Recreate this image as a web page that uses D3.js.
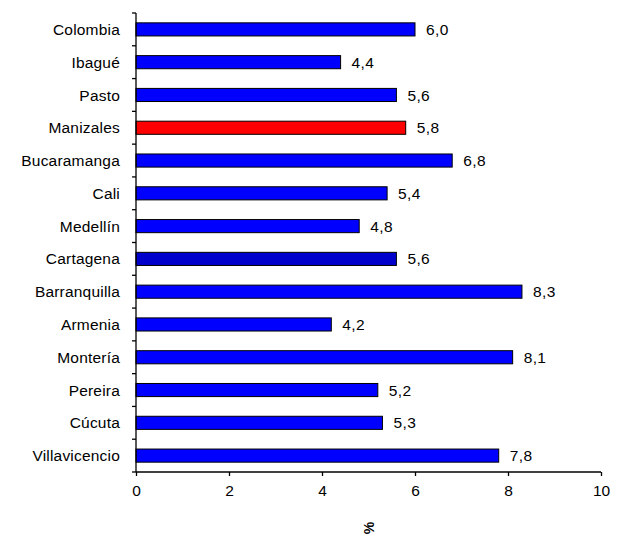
<!DOCTYPE html>
<html>
<head>
<meta charset="utf-8">
<script src="https://cdn.jsdelivr.net/npm/d3@7"></script>
<style>
  html, body { margin: 0; padding: 0; background: #fff; }
  text { font-family: "Liberation Sans", Arial, sans-serif; fill: #000; }
</style>
</head>
<body>
<svg id="chart" width="621" height="536"></svg>
<script>
// Cities, top to bottom, and their percentages
const categories = ["Colombia", "Ibagué", "Pasto", "Manizales", "Bucaramanga", "Cali", "Medellín",
  "Cartagena", "Barranquilla", "Armenia", "Montería", "Pereira", "Cúcuta", "Villavicencio"];
const values = [6.0, 4.4, 5.6, 5.8, 6.8, 5.4, 4.8, 5.6, 8.3, 4.2, 8.1, 5.2, 5.3, 7.8];
const barColors = ["#0000FF", "#0000FF", "#0000FF", "#FF0000", "#0000FF", "#0000FF", "#0000FF",
  "#0000CC", "#0000FF", "#0000FF", "#0000FF", "#0000FF", "#0000FF", "#0000FF"];
const xTicks = [0, 2, 4, 6, 8, 10];
const xTitle = "%";

const svg = d3.select("#chart");
const plotLeft = 136, plotRight = 601, plotTop = 13, plotBottom = 472;

const x = d3.scaleLinear().domain([0, 10]).range([plotLeft, plotRight]);
const y = d3.scaleBand().domain(categories).range([plotTop, plotBottom]).paddingInner(0.6).paddingOuter(0.3);

const rows = categories.map((c, i) => ({ c, v: values[i], col: barColors[i] }));
const fmt = v => v.toFixed(1).replace(".", ",");

// bars
svg.append("g").selectAll("rect").data(rows).join("rect")
  .attr("x", x(0))
  .attr("y", d => y(d.c))
  .attr("width", d => x(d.v) - x(0))
  .attr("height", y.bandwidth())
  .attr("fill", d => d.col)
  .attr("stroke", "#000")
  .attr("stroke-width", 1);

// value labels
svg.append("g").selectAll("text").data(rows).join("text")
  .attr("x", d => x(d.v) + 11)
  .attr("y", d => y(d.c) + y.bandwidth() / 2)
  .attr("dy", "0.36em")
  .style("font-size", "15.5px")
  .style("letter-spacing", "0.4px")
  .text(d => fmt(d.v));

// category axis: line plus ticks between categories
const step = (plotBottom - plotTop) / categories.length;
const gy = svg.append("g");
gy.append("line").attr("x1", plotLeft).attr("x2", plotLeft).attr("y1", plotTop).attr("y2", plotBottom)
  .attr("stroke", "#000").attr("stroke-width", 1.3);
gy.selectAll("line.tk").data(d3.range(categories.length + 1)).join("line")
  .attr("class", "tk")
  .attr("x1", plotLeft - 4).attr("x2", plotLeft)
  .attr("y1", i => plotTop + i * step).attr("y2", i => plotTop + i * step)
  .attr("stroke", "#000").attr("stroke-width", 1.3);
gy.selectAll("text").data(categories).join("text")
  .attr("x", plotLeft - 16)
  .attr("y", d => y(d) + y.bandwidth() / 2)
  .attr("dy", "0.36em")
  .attr("text-anchor", "end")
  .style("font-size", "15.5px")
  .style("letter-spacing", "0.2px")
  .text(d => d);

// value axis
const xAxis = d3.axisBottom(x).tickValues(xTicks).tickSize(4).tickPadding(9).tickFormat(d3.format("d"));
const gx = svg.append("g").attr("transform", `translate(0,${plotBottom})`).call(xAxis);
gx.select(".domain").attr("stroke", "#000").attr("stroke-width", 1.3).attr("d", `M${plotLeft},0H${plotRight}`);
gx.selectAll(".tick line").attr("stroke", "#000").attr("stroke-width", 1.3);
gx.selectAll(".tick text").style("font-size", "15.5px").style("font-family", "Liberation Sans, Arial, sans-serif").attr("fill", "#000");

// axis title, rotated
svg.append("text")
  .attr("transform", `translate(${(plotLeft + plotRight) / 2},528) rotate(-90)`)
  .attr("text-anchor", "middle")
  .attr("dy", "0.36em")
  .style("font-size", "14px")
  .style("font-weight", "bold")
  .text(xTitle);
</script>
</body>
</html>
